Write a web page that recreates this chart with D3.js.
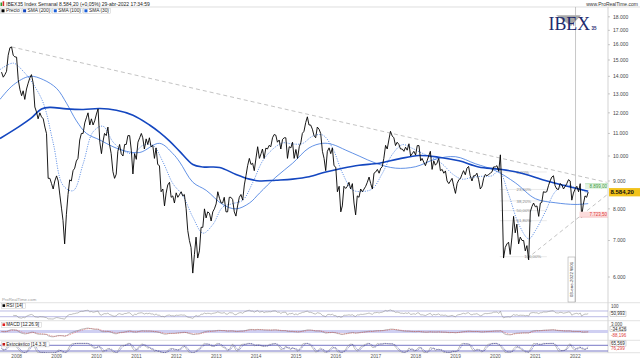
<!DOCTYPE html>
<html><head><meta charset="utf-8">
<script src="https://cdn.jsdelivr.net/npm/d3@7"></script>
<style>body{margin:0;background:#fff}svg{display:block}text{font-family:"Liberation Sans",Arial,sans-serif}</style>
</head><body>
<svg id="c" width="640" height="360"></svg>
<script>
// ---------- DATA ----------
// Half-month closes of IBEX35, starting mid-August 2007 (slots: 15th, end of month)
const priceCloses = [
 14250,13950,14100,14300,15300,15800,15850,15300,15200,15180,
 13800,13230,12900,13170,12700,13270,13600,13900,14100,13600,12300,12050,11700,12000,11800,11700,11300,10990,9100,9100,8900,8700,9000,9195,
 9000,8450,8000,7620,6900,7820,8500,9040,9000,9400,9500,9790,9900,10700,11000,11000,11500,11750,12000,11400,11700,11400,11600,11940,
 12200,10600,10100,10600,11000,10900,11300,10500,10100,9360,9100,9260,10200,10500,10100,10000,10500,10500,10900,10900,10250,9270,10100,9860,
 10600,10800,11000,10800,10300,10750,10500,10800,10400,10450,9900,10350,9650,9600,8600,8700,8100,8550,8850,8950,8400,8450,8200,8560,
 8400,8500,8600,8450,8500,8010,7300,7000,6800,6100,6600,7100,6500,6700,7400,7400,8000,7700,7900,7850,7600,7900,8000,8170,
 8600,8360,8200,8200,8400,7900,7900,8400,8400,8320,7900,7760,8100,8400,8500,8300,8850,9200,9600,9900,9650,9700,9400,9920,
 10400,9900,10100,10300,9900,10340,10300,10460,10400,10800,10950,10920,10600,10700,10300,10730,10800,10800,9900,10400,10350,10600,9900,10280,
 9900,10400,10600,11000,11100,11520,11800,11400,11400,11200,10900,10800,11300,11200,11000,10200,9900,9400,10200,10350,10100,10350,9600,9540,
 8600,8800,7900,8100,8800,8720,8800,8950,8700,8900,8200,7800,8450,8400,8700,8600,8700,8800,8950,9150,8900,8700,9300,9350,
 9450,9300,9500,9550,9900,10460,10300,10700,11100,10880,10800,10450,10600,10500,10300,10300,10200,10380,10250,10530,10000,10100,10200,10040,
 10450,10450,9800,9900,9750,9600,9800,10000,10200,9450,9800,9620,9700,9900,9400,9450,9300,9390,9000,8900,9000,9100,8800,8540,
 8900,9050,9100,9250,9400,9240,9500,9570,9200,9000,9200,9200,9300,9050,8700,8800,9100,9250,9200,9250,9300,9350,9550,9550,
 9600,9370,10050,8700,6500,6800,6900,6950,6600,7100,7750,7230,7500,6900,7100,7000,7000,6700,6850,6450,7900,8080,8200,8070,
 8100,7750,8200,8220,8600,8580,8600,8820,9000,9150,9200,8820,8700,8680,8900,8850,8700,8800,8900,9050,9000,8300,8550,8710,
 8800,8600,8899,7723.5,8150,8450,8400,8584.2
];
const sma200 = [["2007-08-01",10770],["2008-01-15",11300],["2008-05-15",11750],["2008-08-15",12200],["2008-11-01",12280],["2009-04-01",12200],["2009-09-01",12170],["2010-02-01",12220],["2010-07-01",12130],["2010-12-01",11880],["2011-05-01",11400],["2011-08-01",11050],["2011-11-01",10650],["2012-02-01",10200],["2012-06-01",9650],["2012-09-01",9550],["2013-02-01",9530],["2013-07-01",9250],["2013-11-01",9070],["2014-02-01",9000],["2014-07-01",9030],["2014-12-01",9070],["2015-05-01",9160],["2015-10-01",9350],["2016-03-01",9500],["2016-08-01",9620],["2017-02-01",9700],["2017-08-01",9880],["2018-02-01",10020],["2018-08-01",9950],["2019-02-01",9800],["2019-08-01",9550],["2020-02-01",9460],["2020-08-01",9330],["2021-04-01",9020],["2021-10-01",8820],["2022-04-29",8620]];
const sma100 = [["2007-08-01",12700],["2007-12-01",13500],["2008-05-01",14000],["2008-09-01",13800],["2009-01-01",13300],["2009-04-01",12500],["2009-07-01",11600],["2009-10-01",11000],["2010-02-01",10700],["2010-06-01",10400],["2010-10-01",10200],["2011-02-01",10150],["2011-08-01",10550],["2011-12-01",10100],["2012-02-01",9750],["2012-06-01",8950],["2012-10-01",8650],["2013-03-01",8150],["2013-07-01",8000],["2013-11-01",8200],["2014-02-01",8550],["2014-07-01",9150],["2014-12-01",9700],["2015-05-01",10350],["2015-09-01",10550],["2015-12-01",10500],["2016-04-01",10250],["2016-08-01",10000],["2017-01-01",9700],["2017-07-01",9500],["2018-01-01",9560],["2018-07-01",9870],["2019-01-01",9970],["2019-07-01",9680],["2020-01-01",9400],["2020-07-01",8930],["2021-01-01",8350],["2021-07-01",8210],["2022-01-01",8150],["2022-04-29",8180]];
const sma30 = [["2007-08-01",14400],["2007-12-01",14800],["2008-03-01",14300],["2008-06-01",13540],["2008-09-01",12500],["2008-12-01",10550],["2009-03-01",8830],["2009-06-01",8640],["2009-09-01",9690],["2009-12-01",11080],["2010-03-01",11340],["2010-06-01",10610],["2010-09-01",10230],["2010-12-01",10100],["2011-03-01",10460],["2011-06-01",10460],["2011-09-01",9750],["2011-12-01",8900],["2012-03-01",8460],["2012-06-01",7720],["2012-09-01",7220],["2012-12-01",7490],["2013-03-01",8060],["2013-06-01",8180],["2013-09-01",8300],["2013-12-01",8940],["2014-03-01",9790],["2014-06-01",10290],["2014-09-01",10570],["2014-12-01",10520],["2015-03-01",10540],["2015-06-01",10870],["2015-09-01",10930],["2015-12-01",10350],["2016-03-01",9310],["2016-06-01",8670],["2016-09-01",8610],["2016-12-01",8710],["2017-03-01",9290],["2017-06-01",10070],["2017-09-01",10490],["2017-12-01",10330],["2018-03-01",10120],["2018-06-01",9930],["2018-09-01",9670],["2018-12-01",9280],["2019-03-01",9070],["2019-06-01",9140],["2019-09-01",9180],["2019-12-01",9200],["2020-02-01",9400],["2020-05-01",8500],["2020-08-01",7500],["2020-11-01",7050],["2021-01-01",7300],["2021-04-01",7900],["2021-07-01",8600],["2021-10-01",8850],["2022-01-01",8750],["2022-04-29",8550]];
const trendUpper = [["2007-11-16",15850],["2022-10-15",8950]];
const trendLower = [["2020-10-15",6485],["2022-10-15",8480]];
const fibLevels = [0,0.236,0.382,0.5,0.618,1];
const fibHigh = 9347, fibLow = 6537;
const fibSpan = ["2020-02-10","2021-04-15"];
const levelHigh = 8899.00, levelLow = 7723.50, lastPrice = 8584.20;
const yTicks = [6000,7000,8000,9000,10000,11000,12000,13000,14000,15000,16000,17000,18000];
const years = d3.range(2008,2023);
const markerDate = "2022-01-03";
const rsiSide = {top:"100", value:"50,993"};
const macdSide = {top:"3,000", macd:"-34,626", signal:"-88,196"};
const stochSide = {k:"65,569", d:"76,299"};

// ---------- SCALES ----------
const svg = d3.select("#c");
const P = d3.utcParse("%Y-%m-%d");
const loc = d3.formatLocale({decimal:",",thousands:".",grouping:[3],currency:["",""]});
const f0 = loc.format(",.0f"), f2 = loc.format(",.2f");
const x = d3.scaleUtc().domain([Date.UTC(2008,0,1),Date.UTC(2022,0,1)]).range([16.7,575.3]);
const y = d3.scaleLog().domain([6000,16000]).range([277,44.7]);
const AX = 608;

const dates = priceCloses.map((v,i)=>{
  const m = 7 + (i>>1), yr = 2007 + Math.floor(m/12), mo = m%12;
  return i%2===0 ? new Date(Date.UTC(yr,mo,15)) : new Date(Date.UTC(yr,mo+1,0));
});
dates[dates.length-1] = P("2022-04-29");
const price = priceCloses.map((v,i)=>({d:dates[i],v}));

// ---------- FRAME ----------
const defs = svg.append("defs");
defs.append("clipPath").attr("id","mainClip").append("rect").attr("x",0).attr("y",7).attr("width",AX).attr("height",295);
defs.append("clipPath").attr("id","subClip").append("rect").attr("x",0).attr("y",303).attr("width",AX).attr("height",50);

svg.append("line").attr("x1",0).attr("x2",640).attr("y1",7).attr("y2",7).attr("stroke","#d0d0d0").attr("stroke-width",0.7);
svg.append("line").attr("x1",AX).attr("x2",AX).attr("y1",7).attr("y2",353).attr("stroke","#c8c8c8").attr("stroke-width",0.8);
[302.7,320.7,340.3,352.7].forEach(yy=>svg.append("line").attr("x1",0).attr("x2",640).attr("y1",yy).attr("y2",yy).attr("stroke","#d6d6d6").attr("stroke-width",0.7));

// header
svg.append("rect").attr("x",0.5).attr("y",2.5).attr("width",1.6).attr("height",3.5).attr("fill","#2c9a2c");
svg.append("rect").attr("x",2.6).attr("y",1.3).attr("width",1.6).attr("height",4.7).attr("fill","#d43030");
svg.append("text").attr("x",6).attr("y",5.6).attr("font-size",5).attr("fill","#222")
  .text("IBEX35 Index Semanal "+f2(lastPrice)+" (+0,05%) 29-abr-2022 17:34:59");
svg.append("text").attr("x",638).attr("y",5.6).attr("font-size",5).attr("fill","#333").attr("text-anchor","end").text("www.ProRealTime.com");

// legend
const legendItems = [["Precio","#000"],["SMA (200)","#1447c0"],["SMA (100)","#1a5fd8"],["SMA (30)","#1a5fd8"]];
let lx = 0.5;
legendItems.forEach(([t,c])=>{
  const g = svg.append("g");
  g.append("rect").attr("x",lx+1).attr("y",9.3).attr("width",3).attr("height",3).attr("fill",c);
  const tx = g.append("text").attr("x",lx+5.5).attr("y",12.4).attr("font-size",4.8).attr("fill","#222").text(t);
  const w = tx.node().getComputedTextLength();
  g.append("rect").attr("x",lx).attr("y",8.3).attr("width",w+7).attr("height",5).attr("fill","none").attr("stroke","#bbb").attr("stroke-width",0.4);
  lx += w+8;
});

// right axis
const ya = svg.append("g");
yTicks.forEach(t=>{
  ya.append("line").attr("x1",AX).attr("x2",AX+2).attr("y1",y(t)).attr("y2",y(t)).attr("stroke","#999").attr("stroke-width",0.5);
  ya.append("text").attr("x",AX+5).attr("y",y(t)+1.7).attr("font-size",5).attr("fill","#444").text(f0(t));
});

// ---------- MAIN CHART ----------
const main = svg.append("g").attr("clip-path","url(#mainClip)");
main.append("line").attr("x1",x(P(markerDate))).attr("x2",x(P(markerDate))).attr("y1",7).attr("y2",302).attr("stroke","#b0b0b0").attr("stroke-width",0.7);

// logo
const logo = svg.append("g");
logo.append("polygon").attr("points","556,15.2 581,15.2 571,26").attr("fill","#a8a8a8");
logo.append("text").attr("x",548.5).attr("y",29.5).style("font-family","'Liberation Serif','DejaVu Serif',serif").attr("font-size",19).attr("fill","#1e2b6e").attr("textLength",41.5).attr("lengthAdjust","spacingAndGlyphs").text("IBEX");
logo.append("text").attr("x",591.5).attr("y",29.5).attr("font-size",4.5).attr("font-weight","bold").attr("fill","#1e2b6e").text("35");

// trend lines
const ptLine = d3.line().x(d=>x(P(d[0]))).y(d=>y(d[1]));
[trendUpper,trendLower].forEach(tl=>main.append("path").attr("d",ptLine(tl)).attr("fill","none").attr("stroke","#a9a9a9").attr("stroke-width",0.7).attr("stroke-dasharray","4,3"));

// fib retracement
const fx1 = x(P(fibSpan[0])), fx2 = x(P(fibSpan[1]));
fibLevels.forEach(l=>{
  const v = fibHigh - l*(fibHigh-fibLow);
  main.append("line").attr("x1",fx1).attr("x2",fx2).attr("y1",y(v)).attr("y2",y(v)).attr("stroke","#dcdcdc").attr("stroke-width",0.6);
  main.append("text").attr("x",x(P(l===1?"2020-09-20":"2020-07-12"))).attr("y",y(v)+1.6).attr("font-size",4.3).attr("fill","#8a8a8a")
    .text(loc.format(".2f")(l*100)+"%");
});

// SMAs
const smaLine = d3.line().x(d=>x(P(d[0]))).y(d=>y(d[1])).curve(d3.curveCatmullRom.alpha(0.5));
main.append("path").attr("d",smaLine(sma30)).attr("fill","none").attr("stroke","#2f6ddc").attr("stroke-width",0.75).attr("stroke-dasharray","1.1,1.3");
main.append("path").attr("d",smaLine(sma100)).attr("fill","none").attr("stroke","#2f6ddc").attr("stroke-width",0.75);
main.append("path").attr("d",smaLine(sma200)).attr("fill","none").attr("stroke","#1447c0").attr("stroke-width",1.6);

// price
main.append("path").attr("d",d3.line().x(d=>x(d.d)).y(d=>y(d.v))(price)).attr("fill","none").attr("stroke","#000").attr("stroke-width",0.9).attr("stroke-linejoin","round");

// level boxes
const gx = x(P("2022-04-01")), rx = x(P("2022-02-08"));
svg.append("rect").attr("x",gx).attr("y",y(levelHigh)).attr("width",AX-0.5-gx).attr("height",5.5).attr("fill","#e2f3e2");
svg.append("line").attr("x1",gx).attr("x2",AX).attr("y1",y(levelHigh)).attr("y2",y(levelHigh)).attr("stroke","#8fd08f").attr("stroke-width",0.5);
svg.append("text").attr("x",AX-1).attr("y",y(levelHigh)+4.3).attr("font-size",4.5).attr("fill","#3a9a3a").attr("text-anchor","end").text(f2(levelHigh));
svg.append("rect").attr("x",rx).attr("y",y(levelLow)-5.5).attr("width",AX-0.5-rx).attr("height",5.5).attr("fill","#fcdcdc");
svg.append("line").attr("x1",rx).attr("x2",AX).attr("y1",y(levelLow)).attr("y2",y(levelLow)).attr("stroke","#f0a0a0").attr("stroke-width",0.5);
svg.append("text").attr("x",AX-1).attr("y",y(levelLow)-1.2).attr("font-size",4.5).attr("fill","#e03c3c").attr("text-anchor","end").text(f2(levelLow));

// last price tag
svg.append("rect").attr("x",AX+1).attr("y",y(lastPrice)-4.1).attr("width",31).attr("height",8.3).attr("fill","#f2c21b");
svg.append("text").attr("x",AX+2.5).attr("y",y(lastPrice)+2.1).attr("font-size",6).attr("font-weight","bold").attr("fill","#111").text(f2(lastPrice));

// date marker label
const mx = x(P(markerDate));
svg.append("rect").attr("x",mx-7.5).attr("y",257).attr("width",7).attr("height",45).attr("fill","#fff").attr("stroke","#999").attr("stroke-width",0.5);
svg.append("text").attr("transform",`translate(${mx-2.3},279.5) rotate(-90)`).attr("font-size",4.4).attr("fill","#333").attr("text-anchor","middle").text("03-ene-2022 W01");

svg.append("text").attr("x",2).attr("y",300.5).attr("font-size",4.3).attr("fill","#9a9a9a").text("ProRealTime.com");

// ---------- INDICATORS (derived from priceCloses) ----------
function ema(a,n){const k=2/(n+1);let e=a[0];return a.map((v,i)=>(e=i===0?v:k*v+(1-k)*e));}
function sma(a,n){return a.map((v,i)=>d3.mean(a.slice(Math.max(0,i-n+1),i+1)));}
function rsi(a,n){let ag=0,al=0;const out=[null];for(let i=1;i<a.length;i++){const c=a[i]-a[i-1],g=Math.max(c,0),l=Math.max(-c,0);if(i===1){ag=g;al=l;}else{ag=(ag*(n-1)+g)/n;al=(al*(n-1)+l)/n;}out.push(al===0?100:100-100/(1+ag/al));}return out;}
const rsiV = rsi(priceCloses,10);
const e6 = ema(priceCloses,6), e13 = ema(priceCloses,13);
const macdV = e6.map((v,i)=>v-e13[i]);
const sigV = ema(macdV,4.5);
const rawK = priceCloses.map((v,i)=>{const w=priceCloses.slice(Math.max(0,i-6),i+1);const lo=d3.min(w),hi=d3.max(w);return hi===lo?50:(v-lo)/(hi-lo)*100;});
const kV = sma(rawK,3);
const dV = sma(kV,3);

const yR = d3.scaleLinear().domain([0,100]).range([321,306.7]);
const yM = d3.scaleLinear().domain([-2000,2000]).range([341,322]);
const yS = d3.scaleLinear().domain([0,100]).range([352.9,343.4]);
const sub = svg.append("g").attr("clip-path","url(#subClip)");

// RSI
[70,30].forEach(l=>sub.append("line").attr("x1",0).attr("x2",AX).attr("y1",yR(l)).attr("y2",yR(l)).attr("stroke","#9c9cd8").attr("stroke-width",0.7));
sub.append("path").attr("d",d3.line().defined((d,i)=>i>=7).x((d,i)=>x(dates[i])).y(d=>yR(d))(rsiV)).attr("fill","none").attr("stroke","#8a8a8a").attr("stroke-width",0.55);
// MACD
sub.append("rect").attr("x",0).attr("width",AX).attr("y",yM(320)).attr("height",yM(-320)-yM(320)).attr("fill","#cfcff2");
sub.append("path").attr("d",d3.line().x((d,i)=>x(dates[i])).y(d=>yM(d))(macdV)).attr("fill","none").attr("stroke","#808080").attr("stroke-width",0.55);
sub.append("path").attr("d",d3.line().x((d,i)=>x(dates[i])).y(d=>yM(d))(sigV)).attr("fill","none").attr("stroke","#e04848").attr("stroke-width",0.6).attr("stroke-dasharray","0.9,0.9");
// Stochastic
[80,20].forEach(l=>sub.append("line").attr("x1",0).attr("x2",AX).attr("y1",yS(l)).attr("y2",yS(l)).attr("stroke","#5656b8").attr("stroke-width",0.8));
sub.append("path").attr("d",d3.line().x((d,i)=>x(dates[i])).y(d=>yS(d))(kV)).attr("fill","none").attr("stroke","#8a8a8a").attr("stroke-width",0.55);
sub.append("path").attr("d",d3.line().x((d,i)=>x(dates[i])).y(d=>yS(d))(dV)).attr("fill","none").attr("stroke","#1c1ca0").attr("stroke-width",0.6).attr("stroke-dasharray","0.9,0.9");

// indicator labels
function tag(t,yy,col){
  const g=svg.append("g");
  g.append("rect").attr("x",2.5).attr("y",yy-0.2).attr("width",2.6).attr("height",2.6).attr("fill",col);
  const tx=g.append("text").attr("x",6.3).attr("y",yy+2.4).attr("font-size",4.6).attr("fill","#222").text(t);
  const w=tx.node().getComputedTextLength();
  g.insert("rect","rect").attr("x",1.5).attr("y",yy-1.3).attr("width",w+7.5).attr("height",5).attr("fill","#fff").attr("stroke","#bbb").attr("stroke-width",0.4);
}
tag("RSI [14]",304.5,"#000");
tag("MACD [12.26.9]",323.6,"#e02020");
tag("Estocástico [14.3.3]",343.2,"#c01818");

function side(t,yy,col,box){
  if(box) svg.append("rect").attr("x",AX+2).attr("y",yy-2.6).attr("width",16).attr("height",5.2).attr("fill","#fff").attr("stroke","#9a9a9a").attr("stroke-width",0.4);
  svg.append("text").attr("x",AX+3).attr("y",yy+1.6).attr("font-size",4.5).attr("fill",col).text(t);
}
side(rsiSide.top,yR(100),"#444",false);
side(rsiSide.value,yR(50.993),"#222",true);
side(macdSide.top,yM(2000)+2.3,"#444",false);
side(macdSide.macd,yM(-34.626)-2.7,"#222",true);
side(macdSide.signal,yM(-88.196)+3.5,"#e03c3c",false);
side(stochSide.k,343.5,"#222",true);
side(stochSide.d,348.7,"#e03c3c",false);

// x axis years
years.forEach(yr=>svg.append("text").attr("x",x(Date.UTC(yr,0,1))).attr("y",357.6).attr("font-size",4.8).attr("fill","#555").attr("text-anchor","middle").text(yr));
</script>
</body></html>
